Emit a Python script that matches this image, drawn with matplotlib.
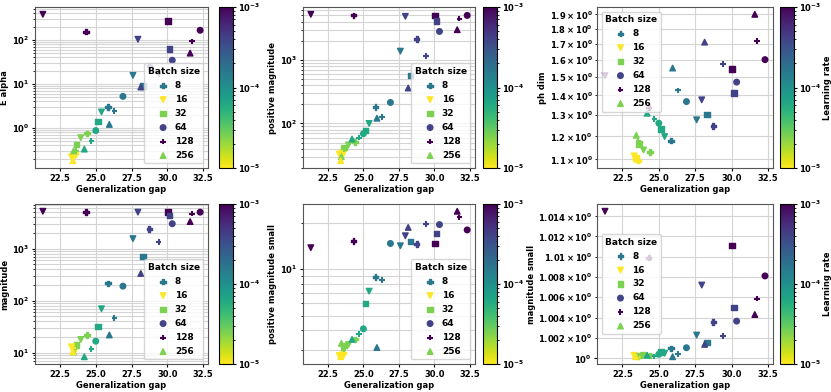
import numpy as np
import matplotlib
matplotlib.use('Agg')
import matplotlib.pyplot as plt
from matplotlib.colors import LogNorm

# one row per run: batch size, learning rate, generalization gap and the six measures
batch = [8, 8, 8, 8, 8,
         16, 16, 16, 16, 16, 16,
         32, 32, 32, 32, 32, 32,
         64, 64, 64, 64, 64,
         128, 128, 128, 128, 128, 128,
         256, 256, 256, 256, 256, 256]
lr = [1.6e-4, 1e-3, 4e-4, 2.5e-5, 1e-5,
      1e-5, 1e-3, 4e-4, 1.6e-4, 6.3e-5, 2.5e-5,
      2.5e-5, 1e-3, 4e-4, 1.6e-4, 6.3e-5, 1e-5,
      4e-4, 1e-3, 1.6e-4, 6.3e-5, 1e-5,
      1e-3, 4e-4, 1.6e-4, 6.3e-5, 2.5e-5, 1e-5,
      2.5e-5, 1e-3, 4e-4, 1.6e-4, 6.3e-5, 1e-5]
gap = [25.85, 24.3, 28.75, 24.4, 23.55,
       23.3, 21.3, 27.95, 27.6, 25.4, 23.95,
       23.65, 30.05, 30.15, 28.3, 25.15, 23.45,
       30.35, 32.3, 26.9, 25.0, 23.5,
       31.75, 29.4, 26.3, 24.7, 23.6, 23.4,
       23.45, 31.6, 28.15, 25.95, 24.2, 23.4]
e_alpha = [3.0, 154, 25, 0.75, 0.27,
           0.22, 380, 103, 15.6, 2.3, 0.6,
           0.42, 267, 62, 9, 1.4, 0.25,
           34.4, 165, 5.2, 0.87, 0.24,
           92, 17, 2.4, 0.5, 0.3, 0.22,
           0.3, 50, 8.5, 1.2, 0.33, 0.18]
pos_mag = [180, 5000, 2140, 51, 38,
           33, 5200, 4830, 1370, 100, 46,
           42, 5000, 4070, 566, 77, 35,
           2800, 5000, 214, 69, 34,
           4440, 1140, 127, 60, 40, 32,
           30, 2980, 361, 121, 57, 26]
ph_dim = [1.181, 1.338, 1.248, 1.132, 1.095,
          1.115, 1.508, 1.377, 1.277, 1.199, 1.14,
          1.166, 1.547, 1.412, 1.304, 1.234, 1.105,
          1.472, 1.602, 1.368, 1.261, 1.10,
          1.718, 1.576, 1.427, 1.28, 1.18, 1.105,
          1.205, 1.90, 1.711, 1.552, 1.309, 1.11]
mag = [215, 5000, 2400, 22, 14,
       13, 5200, 5000, 1550, 70, 18,
       14, 5000, 4300, 700, 32, 12,
       3000, 5000, 190, 16.7, 13,
       4700, 1340, 46, 11.7, 13, 12.5,
       10.4, 3300, 333, 22, 8.4, 10.5]
pos_mag_small = [8.9, 15.3, 14.6, 3.5, 2.85,
                 2.75, 13.8, 16.5, 14.2, 7.2, 3.24,
                 3.2, 14.7, 17.1, 15.1, 6.0, 2.8,
                 19.5, 18, 14.7, 4.1, 2.8,
                 21.7, 19.6, 8.5, 3.8, 3.0, 2.75,
                 3.3, 23.8, 18.7, 3.1, 3.5, 2.7]
mag_small = [1.00098, 1.0099, 1.00355, 1.0003, 1.0002,
             1.0003, 1.0145, 1.0072, 1.00228, 1.0005, 1.0003,
             1.0003, 1.0111, 1.005, 1.00156, 1.0006, 1.0002,
             1.00365, 1.0081, 1.00104, 1.0004, 1.0002,
             1.00586, 1.0022, 1.0004, 1.0002, 1.0003, 1.0002,
             1.0002, 1.0043, 1.00137, 1.00016, 1.0003, 1.0002]

batch_sizes = [8, 16, 32, 64, 128, 256]
markers = ['P', 'v', 's', 'o', '+', '^']

measures = [('E alpha', e_alpha), ('positive magnitude', pos_mag), ('ph dim', ph_dim),
            ('magnitude', mag), ('positive magnitude small', pos_mag_small),
            ('magnitude small', mag_small)]
legend_loc = ['lower right', 'lower right', 'upper left',
              'lower right', 'lower right', 'center left']

plt.rcParams['font.size'] = 6
plt.rcParams['font.weight'] = 'bold'
plt.rcParams['axes.labelweight'] = 'bold'
plt.rcParams['axes.labelpad'] = 2
plt.rcParams['xtick.major.pad'] = 1.5
plt.rcParams['ytick.major.pad'] = 1.5
plt.rcParams['ytick.minor.pad'] = 1.5
plt.rcParams['xtick.major.size'] = 2.5
plt.rcParams['ytick.major.size'] = 2.5
plt.rcParams['ytick.minor.size'] = 1.5

batch = np.array(batch)
lr = np.array(lr)
gap = np.array(gap)
norm = LogNorm(1e-5, 1e-3)

fig = plt.figure(figsize=(8.31, 3.92), dpi=100)

# axes boxes in pixels: left, width, colorbar left
cols = [(35, 173, 219), (303, 172, 483), (597, 176, 780)]
rows = [(7, 161), (204, 160)]

for k, (name, vals) in enumerate(measures):
    r, c = divmod(k, 3)
    left, width, cleft = cols[c]
    top, height = rows[r]
    ax = fig.add_axes([left / 831, 1 - (top + height) / 392, width / 831, height / 392])
    cax = fig.add_axes([cleft / 831, 1 - (top + height) / 392, 14 / 831, height / 392])
    vals = np.array(vals)
    for bs, m in zip(batch_sizes, markers):
        sel = batch == bs
        sc = ax.scatter(gap[sel], vals[sel], c=lr[sel], cmap='viridis_r', norm=norm,
                        marker=m, s=16, label=str(bs), zorder=3)
    ax.set_yscale('log')
    ax.grid(True, which='both', color='#d4d4d4', linewidth=0.8, zorder=0)
    ax.set_axisbelow(True)
    for sp in ax.spines.values():
        sp.set_color('#555555')
    ax.set_xticks([22.5, 25.0, 27.5, 30.0, 32.5])
    ax.set_xlabel('Generalization gap')
    ax.set_ylabel(name)
    leg = ax.legend(title='Batch size', loc=legend_loc[k], handletextpad=0.3,
                    borderpad=0.4, labelspacing=0.55, fontsize=6.5)
    leg.get_title().set_fontweight('bold')
    leg.get_title().set_fontsize(6.5)
    cb = fig.colorbar(sc, cax=cax)
    cb.ax.tick_params(labelsize=6, pad=1)
    if c == 2:
        cb.set_label('Learning rate', labelpad=1)

plt.savefig('out.png', dpi=100)
